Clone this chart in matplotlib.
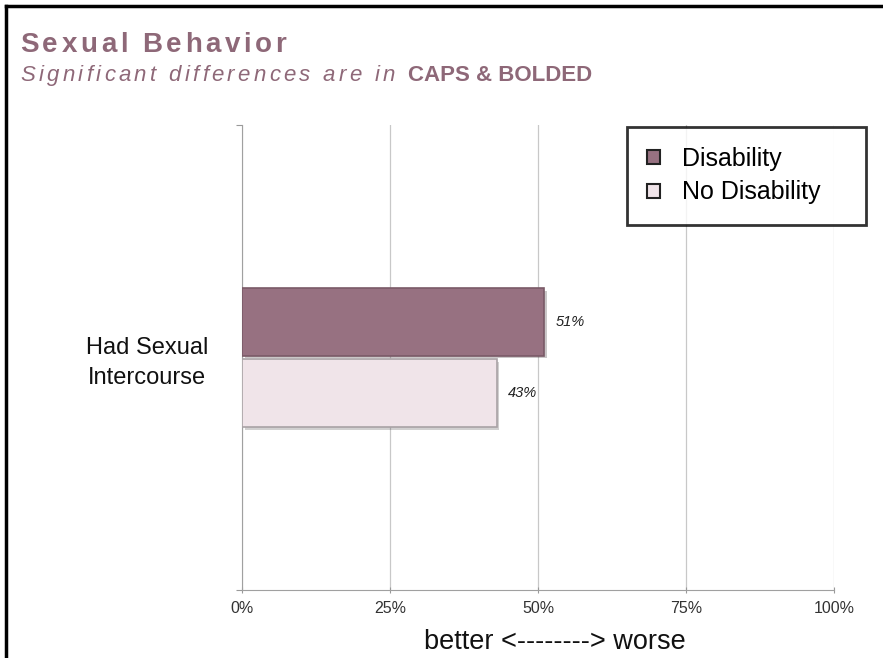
import matplotlib

matplotlib.use("Agg")
import matplotlib.patheffects as pe
import matplotlib.pyplot as plt
from matplotlib.lines import Line2D

plt.rcParams["font.family"] = ["Liberation Sans", "DejaVu Sans"]

# data
category = "Had Sexual\nIntercourse"
series = ["Disability", "No Disability"]
values = [51, 43]
colors = ["#977181", "#F0E4E9"]
edges = ["#7A5A67", "#A9A2A5"]
x_ticks = [0, 25, 50, 75, 100]

W, H = 883, 658
fig = plt.figure(figsize=(W / 100, H / 100), dpi=100)
ax = fig.add_axes([242 / W, 1 - 590 / H, 592 / W, 465 / H])

bar_h = 0.146
offsets = [bar_h / 2 + 0.004, -bar_h / 2 - 0.004]
for name, val, off, c, ec in zip(series, values, offsets, colors, edges):
    bars = ax.barh(off, val, height=bar_h, color=c, edgecolor=ec,
                   linewidth=1.2, label=name, zorder=3)
    # soft drop shadow like the bevelled bars in the original
    for b in bars:
        b.set_path_effects([pe.SimplePatchShadow(offset=(2, -2), alpha=0.25),
                            pe.Normal()])
    ax.text(val + 2.0, off, f"{val}%", va="center", ha="left",
            fontsize=10.5, style="italic", color="#222222")

ax.set_xlim(0, 100)
ax.set_ylim(-0.5, 0.5)
ax.set_xticks(x_ticks)
ax.set_xticklabels([f"{t}%" for t in x_ticks], fontsize=11.5, color="#333333")
ax.tick_params(axis="x", length=4, color="#999999", direction="inout", pad=6)
ax.set_yticks([-0.5, 0.5])
ax.set_yticklabels([])
ax.tick_params(axis="y", length=4, color="#999999", direction="out")
ax.xaxis.grid(True, color="#C8C8C8", linewidth=0.9, zorder=0)
for s in ["top", "right"]:
    ax.spines[s].set_visible(False)
for s in ["left", "bottom"]:
    ax.spines[s].set_color("#A0A0A0")

ax.text(-16, -0.012, category, ha="center", va="center", fontsize=17,
        linespacing=1.45, color="#111111")
ax.set_xlabel("better <--------> worse", fontsize=19.5, labelpad=9,
              x=0.5 + 17 / 592, color="#111111")

leg = ax.legend(loc="upper left",
                bbox_to_anchor=(627 / W, 1 - 222 / H, 239 / W, 95 / H),
                bbox_transform=fig.transFigure, mode="expand",
                borderaxespad=0, fontsize=18, frameon=True, fancybox=False,
                edgecolor="black", handlelength=0.5, handleheight=0.5,
                handletextpad=0.9, borderpad=0.8, labelspacing=0.38)
leg.get_frame().set_linewidth(2)
for h in leg.legend_handles:
    h.set_edgecolor("#222222")
    h.set_linewidth(1.5)
    h.set_path_effects([])

# titles (drawn char by char to get the wide letter spacing)
title_color = "#8E6878"
fig.canvas.draw()
renderer = fig.canvas.get_renderer()


def char_width(c, **kw):
    t1 = fig.text(0, 0, "x" + c + "x", **kw)
    t2 = fig.text(0, 0, "xx", **kw)
    w = t1.get_window_extent(renderer).width - t2.get_window_extent(renderer).width
    t1.remove()
    t2.remove()
    return w


def spaced_text(x, y, s, extra, **kw):
    # x, y in pixels from the top-left; returns x after the last char
    for c in s:
        fig.text(x / W, 1 - y / H, c, va="baseline", **kw)
        x += char_width(c, **kw) + extra
    return x


spaced_text(20, 52, "Sexual Behavior", 3.6, fontsize=20, fontweight="bold",
            color=title_color)
x_end = spaced_text(20, 81, "Significant differences are in ", 3.3,
                    fontsize=16, style="italic", color=title_color)
fig.text(x_end / W, 1 - 81 / H, "CAPS & BOLDED", fontsize=16,
         fontweight="bold", color=title_color, va="baseline")

# outer frame: only top and left edges are visible
fig.add_artist(Line2D([6 / W, 1], [1 - 6 / H, 1 - 6 / H], color="black",
                      linewidth=2.5, transform=fig.transFigure))
fig.add_artist(Line2D([6 / W, 6 / W], [0, 1 - 6 / H], color="black",
                      linewidth=2.5, transform=fig.transFigure))

fig.savefig("out.png", dpi=100)
